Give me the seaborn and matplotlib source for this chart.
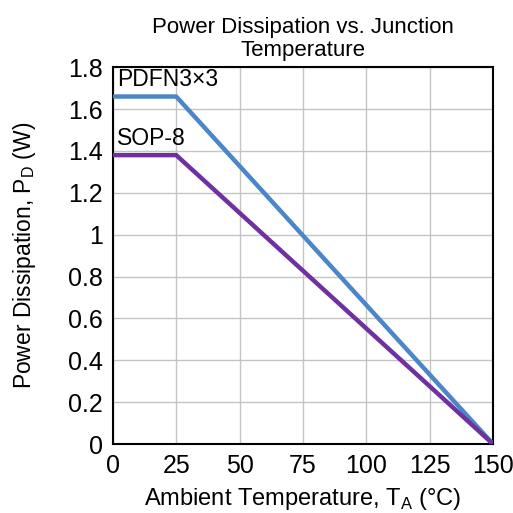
import matplotlib
matplotlib.use("Agg")
import matplotlib.pyplot as plt
import pandas as pd
import seaborn as sns

# Derating curves
temp_c = [0, 25, 150]
pdfn_w = [1.66, 1.66, 0.0]
sop_w = [1.38, 1.38, 0.0]

x_ticks = [0, 25, 50, 75, 100, 125, 150]
y_ticks = [0, 0.2, 0.4, 0.6, 0.8, 1.0, 1.2, 1.4, 1.6, 1.8]
y_labels = ["0", "0.2", "0.4", "0.6", "0.8", "1", "1.2", "1.4", "1.6", "1.8"]

df = pd.DataFrame({
    "T": temp_c * 2,
    "P": pdfn_w + sop_w,
    "pkg": ["PDFN3×3"] * 3 + ["SOP-8"] * 3,
})

sns.set_theme(style="white")
plt.rcParams["font.family"] = ["Liberation Sans", "DejaVu Sans"]
plt.rcParams["text.color"] = "black"
plt.rcParams["axes.labelcolor"] = "black"

fig = plt.figure(figsize=(5.13, 5.13), dpi=100)
ax = fig.add_axes([0.220, 0.1345, 0.741, 0.7345])

sns.lineplot(data=df, x="T", y="P", hue="pkg",
             palette={"PDFN3×3": "#4a86c8", "SOP-8": "#7030a0"},
             linewidth=3.2, legend=False, ax=ax, zorder=3)

ax.set_xlim(0, 150)
ax.set_ylim(0, 1.8)
ax.set_xticks(x_ticks)
ax.set_yticks(y_ticks)
ax.set_yticklabels(y_labels)
ax.tick_params(labelsize=18, length=0, pad=7, colors="black")
ax.grid(True, color="#c4c4c4", linewidth=1.0)
for s in ax.spines.values():
    s.set_color("black")
    s.set_linewidth(1.5)

ax.set_xlabel("Ambient Temperature, T$_\\mathregular{A}$ (°C)", fontsize=17, labelpad=6)
ax.set_ylabel("Power Dissipation, P$_\\mathregular{D}$ (W)", fontsize=16.5, labelpad=22)
ax.set_title("Power Dissipation vs. Junction\nTemperature", fontsize=16, pad=8,
             linespacing=1.1, color="black")

ax.text(1.5, 1.685, "PDFN3×3", fontsize=16.5, ha="left", va="bottom", color="black")
ax.text(1.5, 1.405, "SOP-8", fontsize=16.5, ha="left", va="bottom", color="black")

fig.savefig("out.png", dpi=100)
